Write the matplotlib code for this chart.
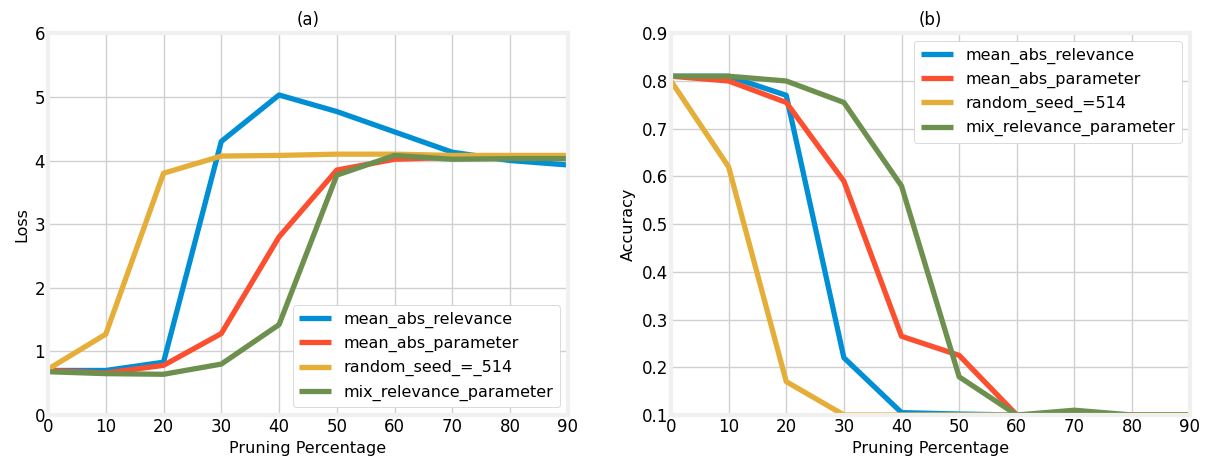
import numpy as np
import matplotlib.pyplot as plt
import matplotlib

plt.style.use('fivethirtyeight')
matplotlib.rcParams['font.family'] = 'DejaVu Sans'
matplotlib.rcParams['font.size'] = 11
matplotlib.rcParams['figure.facecolor'] = 'white'
matplotlib.rcParams['axes.facecolor'] = 'white'
matplotlib.rcParams['savefig.facecolor'] = 'white'

# 剪枝比例
pruning = [0, 10, 20, 30, 40, 50, 60, 70, 80, 90]

# (a) loss
loss_relevance = [0.70, 0.70, 0.83, 4.30, 5.03, 4.77, 4.45, 4.13, 4.00, 3.93]
loss_parameter = [0.70, 0.66, 0.78, 1.28, 2.80, 3.85, 4.02, 4.05, 4.05, 4.05]
loss_random = [0.72, 1.27, 3.80, 4.07, 4.08, 4.10, 4.10, 4.08, 4.08, 4.08]
loss_mix = [0.68, 0.65, 0.64, 0.80, 1.42, 3.77, 4.08, 4.02, 4.03, 4.03]

# (b) accuracy
acc_relevance = [0.81, 0.81, 0.77, 0.22, 0.105, 0.102, 0.10, 0.10, 0.10, 0.10]
acc_parameter = [0.81, 0.80, 0.755, 0.59, 0.265, 0.225, 0.10, 0.10, 0.10, 0.10]
acc_random = [0.80, 0.62, 0.17, 0.10, 0.10, 0.10, 0.10, 0.10, 0.10, 0.10]
acc_mix = [0.81, 0.81, 0.80, 0.755, 0.58, 0.18, 0.10, 0.11, 0.10, 0.10]

colors = ['#008fd5', '#fc4f30', '#e5ae38', '#6d904f']
lw = 3.8

fig = plt.figure(figsize=(12.09, 4.61), dpi=100)
ax1 = fig.add_axes([0.0397, 0.0998, 0.430, 0.828])
ax2 = fig.add_axes([0.555, 0.0998, 0.429, 0.828])

ax1.plot(pruning, loss_relevance, color=colors[0], lw=lw, label='mean_abs_relevance')
ax1.plot(pruning, loss_parameter, color=colors[1], lw=lw, label='mean_abs_parameter')
ax1.plot(pruning, loss_random, color=colors[2], lw=lw, label='random_seed_=_514')
ax1.plot(pruning, loss_mix, color=colors[3], lw=lw, label='mix_relevance_parameter')
ax1.set_xlim(0, 90)
ax1.set_ylim(0, 6)
ax1.set_xticks(range(0, 91, 10))
ax1.set_yticks(range(0, 7))
ax1.set_xlabel('Pruning Percentage', fontsize=11.5)
ax1.set_ylabel('Loss', fontsize=11.5)
ax1.set_title('(a)', fontsize=12)
ax1.legend(loc='lower right', fontsize=11.5, facecolor='white', framealpha=1)

ax2.plot(pruning, acc_relevance, color=colors[0], lw=lw, label='mean_abs_relevance')
ax2.plot(pruning, acc_parameter, color=colors[1], lw=lw, label='mean_abs_parameter')
ax2.plot(pruning, acc_random, color=colors[2], lw=lw, label='random_seed_=514')
ax2.plot(pruning, acc_mix, color=colors[3], lw=lw, label='mix_relevance_parameter')
ax2.set_xlim(0, 90)
ax2.set_ylim(0.1, 0.9)
ax2.set_xticks(range(0, 91, 10))
ax2.set_yticks(np.arange(0.1, 0.91, 0.1))
ax2.set_xlabel('Pruning Percentage', fontsize=11.5)
ax2.set_ylabel('Accuracy', fontsize=11.5)
ax2.set_title('(b)', fontsize=12)
ax2.legend(loc='upper right', fontsize=11.5, facecolor='white', framealpha=1)

for ax in [ax1, ax2]:
    ax.tick_params(labelsize=12, pad=2)
    ax.grid(color='#d0d0d0', lw=1)

plt.savefig('out.png', dpi=100)
